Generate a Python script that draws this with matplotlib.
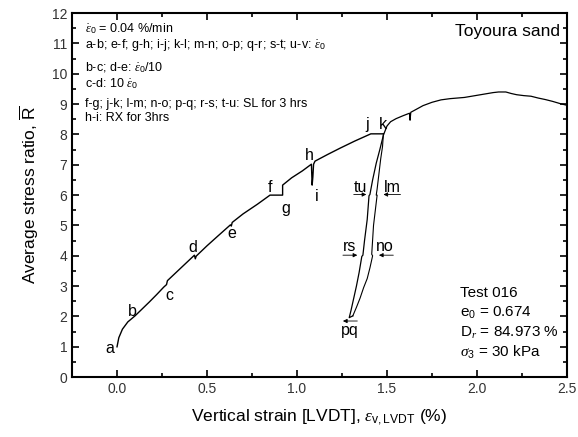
import matplotlib
matplotlib.use("Agg")
import matplotlib.pyplot as plt
from matplotlib.ticker import MultipleLocator

plt.rcParams['font.family'] = ['Liberation Sans', 'DejaVu Sans']
plt.rcParams['mathtext.fontset'] = 'custom'
plt.rcParams['mathtext.rm'] = 'Liberation Sans'
plt.rcParams['mathtext.it'] = 'Liberation Serif:italic'
plt.rcParams['mathtext.bf'] = 'Liberation Sans:bold'

# loading a -> k (monotonic with creep / relaxation stages)
load_strain = [0.00, 0.01, 0.03, 0.06, 0.10, 0.14, 0.18, 0.22, 0.26, 0.275, 0.28, 0.33,
               0.38, 0.43, 0.435, 0.44, 0.50, 0.56, 0.63, 0.635, 0.64, 0.70, 0.78,
               0.85, 0.92, 0.92, 0.97, 1.03, 1.08, 1.084, 1.088, 1.092, 1.10, 1.17,
               1.24, 1.32, 1.41, 1.48]
load_ratio = [1.00, 1.30, 1.58, 1.82, 2.02, 2.25, 2.48, 2.72, 2.97, 3.05, 3.18, 3.46,
              3.74, 4.02, 3.90, 3.99, 4.33, 4.65, 5.02, 4.98, 5.10, 5.38, 5.70,
              6.00, 6.00, 6.33, 6.57, 6.80, 7.02, 6.33, 6.60, 7.02, 7.12, 7.34,
              7.55, 7.78, 8.02, 8.02]

# unloading k -> p (l-m and n-o holds)
unload_strain = [1.48, 1.475, 1.465, 1.455, 1.445, 1.44, 1.445, 1.435, 1.425, 1.415, 1.42,
                 1.405, 1.39, 1.37, 1.35, 1.33, 1.31]
unload_ratio = [8.02, 7.60, 7.20, 6.70, 6.20, 6.00, 6.00, 5.50, 5.00, 4.05, 4.00,
                3.60, 3.25, 2.95, 2.60, 2.30, 2.02]

# p-q hold, reloading q -> v and continued shearing
reload_strain = [1.31, 1.29, 1.30, 1.315, 1.33, 1.345, 1.36, 1.366, 1.375, 1.39, 1.40,
                 1.405, 1.42, 1.44, 1.46, 1.48, 1.50, 1.52, 1.55, 1.59, 1.625, 1.628,
                 1.632, 1.66, 1.70, 1.75, 1.80, 1.85, 1.89, 1.93, 1.97, 2.01, 2.05,
                 2.09, 2.12, 2.16, 2.19, 2.22, 2.26, 2.30, 2.34, 2.38, 2.42, 2.46, 2.50]
reload_ratio = [2.02, 1.96, 2.20, 2.60, 3.00, 3.45, 3.98, 4.02, 4.50, 5.20, 5.98,
                6.02, 6.50, 7.05, 7.50, 7.98, 8.28, 8.42, 8.52, 8.62, 8.70, 8.47,
                8.73, 8.82, 8.95, 9.06, 9.14, 9.18, 9.20, 9.22, 9.26, 9.30, 9.34,
                9.38, 9.40, 9.40, 9.35, 9.31, 9.28, 9.26, 9.20, 9.15, 9.09, 9.02, 8.96]

# point letters along the curve
point_names = ['a', 'b', 'c', 'd', 'e', 'f', 'g', 'h', 'i', 'j', 'k']
point_x = [-0.04, 0.085, 0.29, 0.42, 0.64, 0.85, 0.935, 1.07, 1.11, 1.39, 1.48]
point_y = [0.95, 2.15, 2.68, 4.28, 4.72, 6.25, 5.55, 7.30, 5.95, 8.33, 8.33]

# hold labels with arrows: name, label x, label y, arrow tail x, arrow head x, arrow y
hold_names = ['tu', 'lm', 'rs', 'no', 'pq']
hold_x = [1.35, 1.53, 1.29, 1.49, 1.295]
hold_y = [6.25, 6.25, 4.30, 4.30, 1.55]
arrow_from = [1.315, 1.575, 1.255, 1.535, 1.335]
arrow_to = [1.385, 1.48, 1.335, 1.455, 1.255]
arrow_y = [6.02, 6.02, 4.02, 4.02, 1.85]

notes = [r'$\dot{\varepsilon}_0$ = 0.04 %/min',
         r'a-b; e-f; g-h; i-j; k-l; m-n; o-p; q-r; s-t; u-v: $\dot{\varepsilon}_0$',
         r'b-c; d-e: $\dot{\varepsilon}_0$/10',
         r'c-d: 10 $\dot{\varepsilon}_0$',
         'f-g; j-k; l-m; n-o; p-q; r-s; t-u: SL for 3 hrs',
         'h-i: RX for 3hrs']
notes_y = [11.5, 10.95, 10.2, 9.68, 9.0, 8.55]

test_info = ['Test 016', 'e$_0$ = 0.674', 'D$_r$ = 84.973 %', r'$\sigma_3$ = 30 kPa']
test_y = [2.77, 2.10, 1.45, 0.82]

fig = plt.figure(figsize=(5.78, 4.37), dpi=100)
ax = fig.add_axes([0.1246, 0.137, 0.8564, 0.833])

ax.plot(load_strain, load_ratio, color='black', lw=1.0)
ax.plot(unload_strain, unload_ratio, color='black', lw=0.8)
ax.plot(reload_strain, reload_ratio, color='black', lw=0.9)

for name, x, y in zip(point_names, point_x, point_y):
    ax.text(x, y, name, fontsize=11.5, ha='center', va='center')

for name, x, y, x0, x1, ya in zip(hold_names, hold_x, hold_y, arrow_from, arrow_to, arrow_y):
    ax.text(x, y, name, fontsize=11.5, ha='center', va='center')
    ax.annotate('', xy=(x1, ya), xytext=(x0, ya),
                arrowprops=dict(arrowstyle='-|>', lw=0.6, color='black',
                                mutation_scale=6, shrinkA=0, shrinkB=0))

for line, y in zip(notes, notes_y):
    ax.text(-0.18, y, line, fontsize=9, ha='left', va='center')

for line, y in zip(test_info, test_y):
    ax.text(1.905, y, line, fontsize=11, ha='left', va='center')

ax.text(2.46, 11.4, 'Toyoura sand', fontsize=12.5, ha='right', va='center')

ax.set_xlim(-0.25, 2.5)
ax.set_ylim(0, 12)
ax.xaxis.set_major_locator(MultipleLocator(0.5))
ax.xaxis.set_minor_locator(MultipleLocator(0.25))
ax.yaxis.set_major_locator(MultipleLocator(1))
ax.yaxis.set_minor_locator(MultipleLocator(0.5))
ax.tick_params(which='both', direction='in', top=True, right=True, labelsize=10,
               labelcolor='#333333', width=1.2)
ax.tick_params(which='major', length=5)
ax.tick_params(which='minor', length=3)
ax.xaxis.set_major_formatter(plt.FuncFormatter(lambda v, p: f'{v:.1f}'))
for s in ax.spines.values():
    s.set_linewidth(1.5)

ax.set_xlabel(r'Vertical strain [LVDT], $\varepsilon_{\mathrm{v,LVDT}}$ (%)', fontsize=12.5, labelpad=8)
ax.set_ylabel(r'Average stress ratio, $\overline{\mathrm{R}}$', fontsize=12.5, labelpad=8)

fig.savefig('out.png', dpi=100)
